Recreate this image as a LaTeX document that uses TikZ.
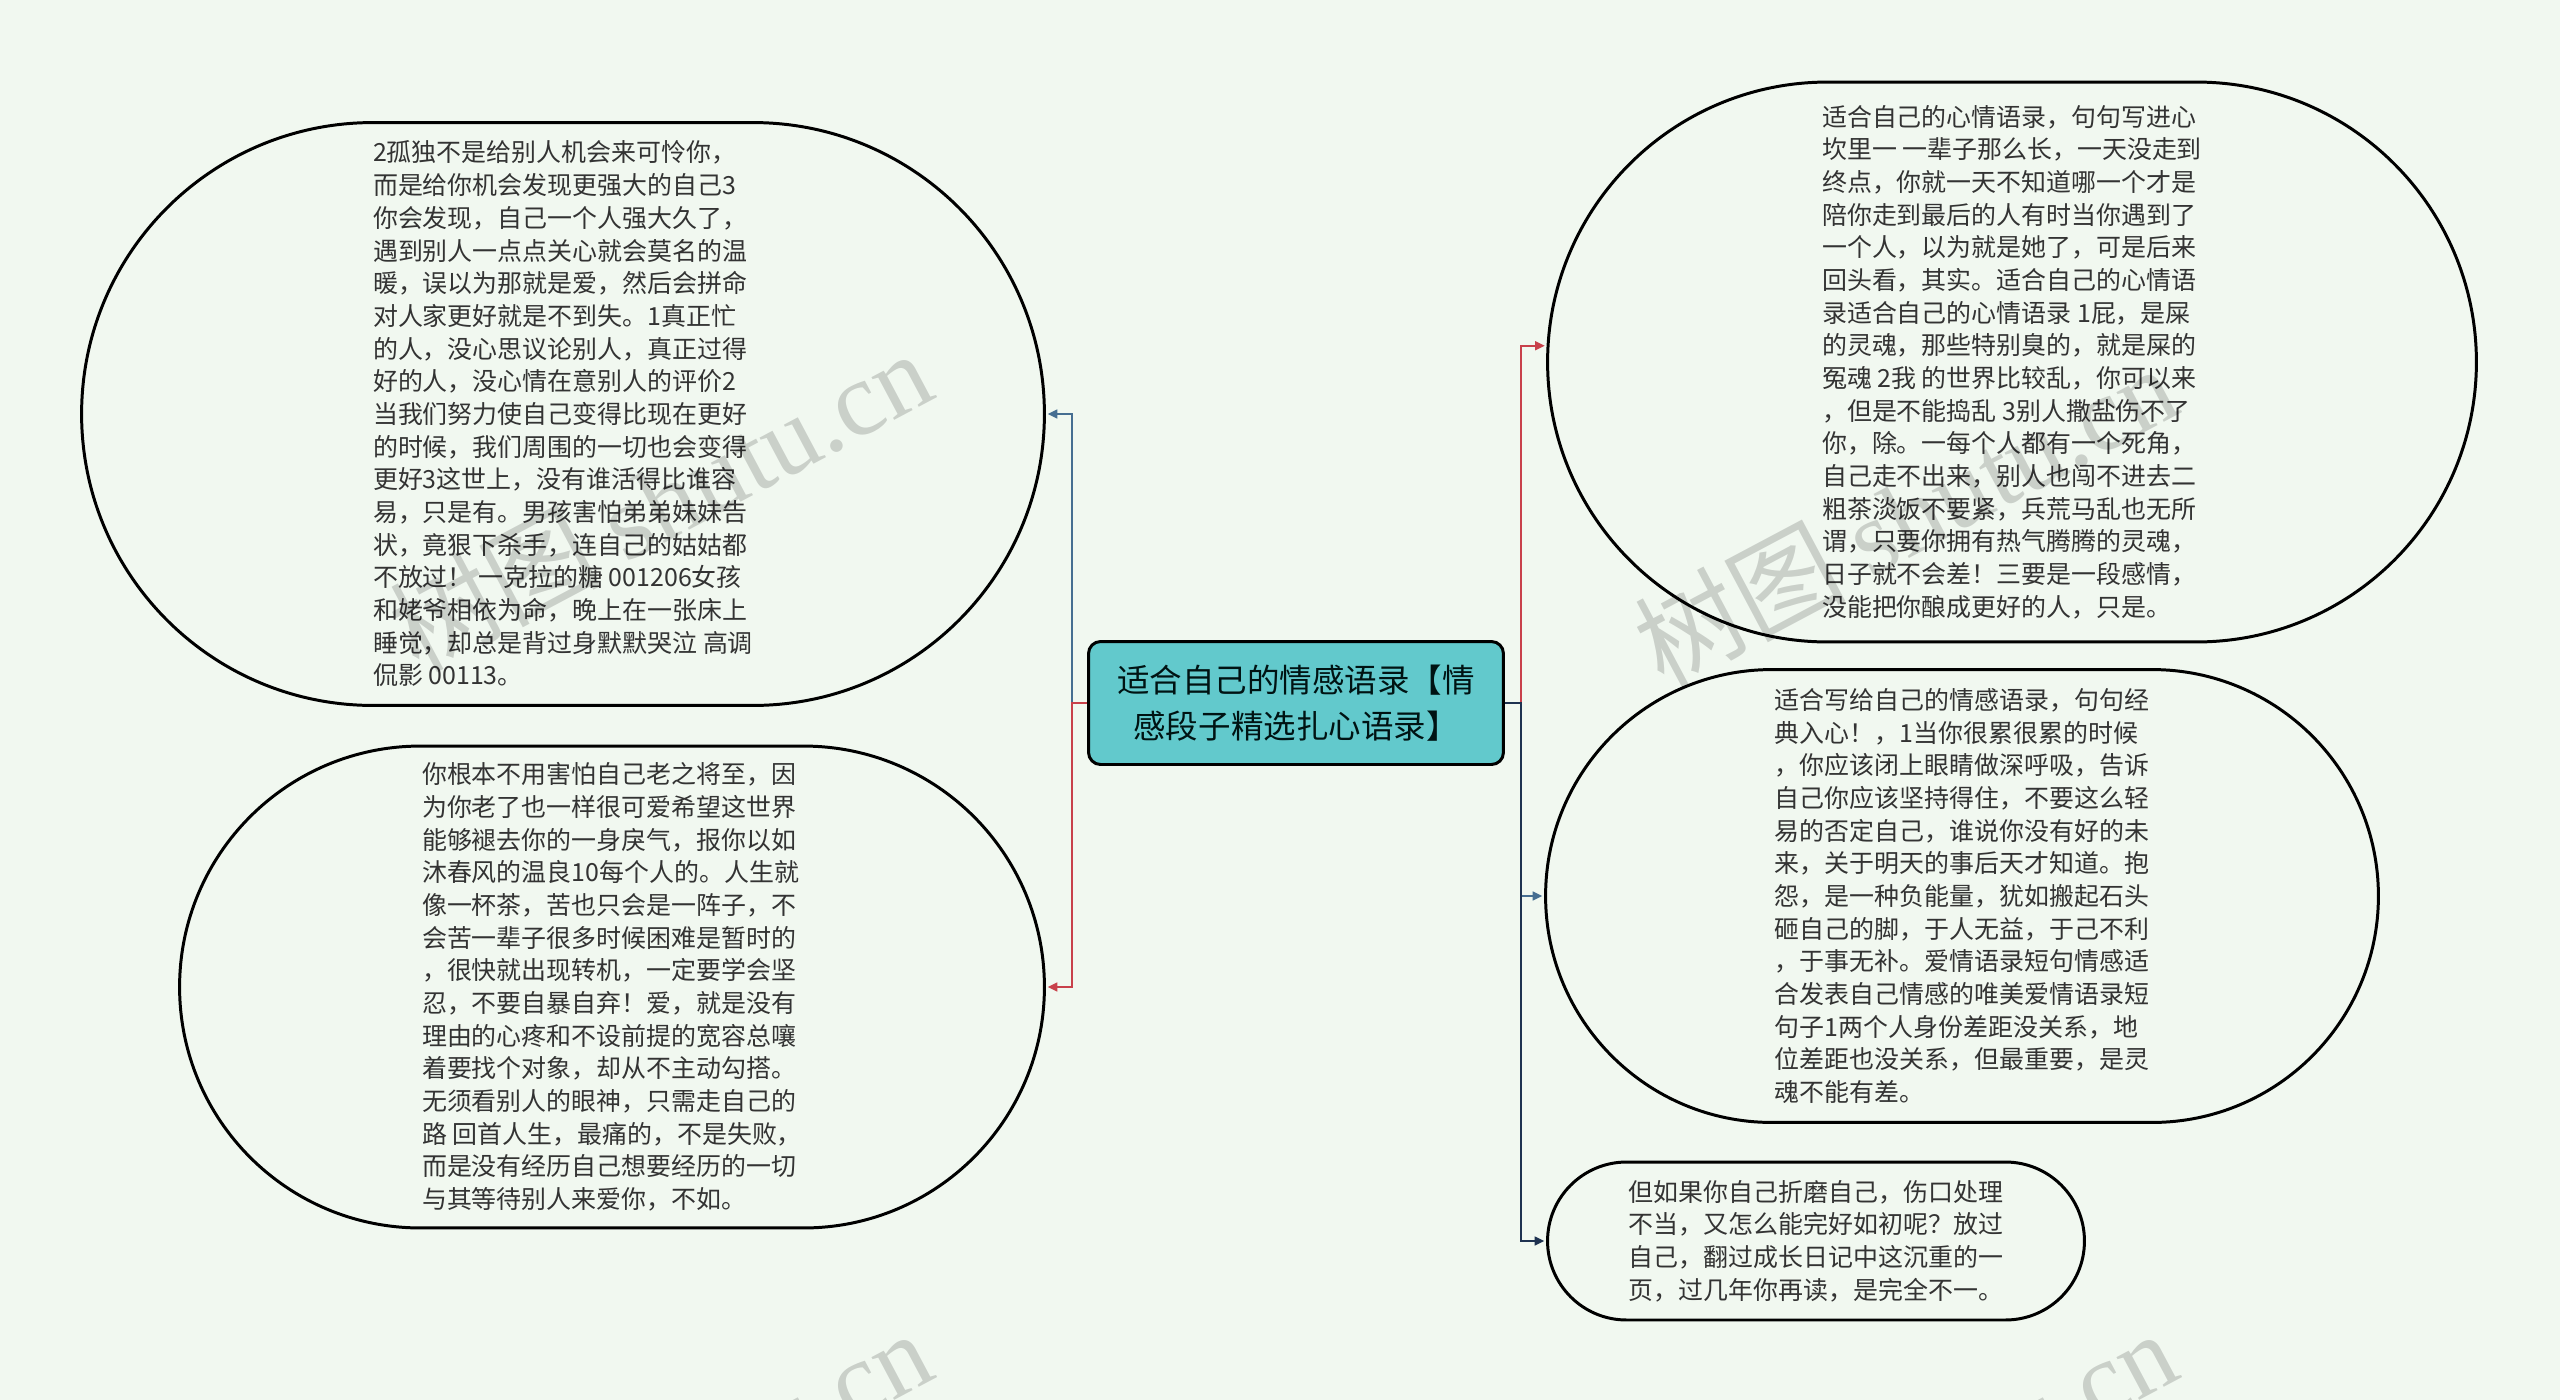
\documentclass[tikz,border=0pt]{standalone}
\usepackage{fontspec}
\setmainfont{Noto Sans CJK SC}
\newfontfamily\wmlatin{Liberation Serif}
\usetikzlibrary{shapes.misc,arrows.meta}
\definecolor{paper}{HTML}{F1F8F0}
\definecolor{rootfill}{HTML}{62C9CC}
\definecolor{linkred}{HTML}{C8414B}
\definecolor{linkblue}{HTML}{466E91}
\definecolor{linknavy}{HTML}{1E3250}
\begin{document}
\begin{tikzpicture}[x=0.02cm, y=-0.02cm,
    bubble/.style={draw=black, line width=1.7pt, rounded rectangle, align=left,
                   text=black!80, inner sep=0pt, font=\fontsize{14.2}{18.6}\selectfont},
    link/.style={line width=1.1pt, -{Triangle[length=5.5pt,width=5pt]}, shorten >=1pt},
    wm/.style={rotate=28, text=black, text opacity=0.16, font=\fontsize{60}{64}\selectfont}]
      \useasboundingbox [fill=paper] (0, 0) rectangle (2560, 1400);
      \node (root) at (1296, 703) [draw=black, line width=1.7pt, fill=rootfill, rounded corners=0.24cm,
            minimum width=8.3cm, minimum height=2.46cm, align=center, text=black!85!teal,
            font=\fontsize{18.5}{26.2}\selectfont]
            {适合自己的情感语录【情\\感段子精选扎心语录】};
      \node (tl) at (563, 414) [bubble, minimum width=19.26cm, minimum height=11.66cm]
            {2孤独不是给别人机会来可怜你，\\而是给你机会发现更强大的自己3\\你会发现，自己一个人强大久了，\\遇到别人一点点关心就会莫名的温\\暖，误以为那就是爱，然后会拼命\\对人家更好就是不到失。1真正忙\\的人，没心思议论别人，真正过得\\好的人，没心情在意别人的评价2\\当我们努力使自己变得比现在更好\\的时候，我们周围的一切也会变得\\更好3这世上，没有谁活得比谁容\\易，只是有。男孩害怕弟弟妹妹告\\状，竟狠下杀手，连自己的姑姑都\\不放过！ 一克拉的糖 001206女孩\\和姥爷相依为命，晚上在一张床上\\睡觉，却总是背过身默默哭泣 高调\\侃影 00113。};
      \node (bl) at (612, 987) [bubble, minimum width=17.3cm, minimum height=9.64cm]
            {你根本不用害怕自己老之将至，因\\为你老了也一样很可爱希望这世界\\能够褪去你的一身戾气，报你以如\\沐春风的温良10每个人的。人生就\\像一杯茶，苦也只会是一阵子，不\\会苦一辈子很多时候困难是暂时的\\，很快就出现转机，一定要学会坚\\忍，不要自暴自弃！爱，就是没有\\理由的心疼和不设前提的宽容总嚷\\着要找个对象，却从不主动勾搭。\\无须看别人的眼神，只需走自己的\\路 回首人生，最痛的，不是失败，\\而是没有经历自己想要经历的一切\\与其等待别人来爱你，不如。};
      \node (tr) at (2012, 362) [bubble, minimum width=18.58cm, minimum height=11.2cm]
            {适合自己的心情语录，句句写进心\\坎里一 一辈子那么长，一天没走到\\终点，你就一天不知道哪一个才是\\陪你走到最后的人有时当你遇到了\\一个人，以为就是她了，可是后来\\回头看，其实。适合自己的心情语\\录适合自己的心情语录 1屁，是屎\\的灵魂，那些特别臭的，就是屎的\\冤魂 2我 的世界比较乱，你可以来\\，但是不能捣乱 3别人撒盐伤不了\\你，除。一每个人都有一个死角，\\自己走不出来，别人也闯不进去二\\粗茶淡饭不要紧，兵荒马乱也无所\\谓，只要你拥有热气腾腾的灵魂，\\日子就不会差！三要是一段感情，\\没能把你酿成更好的人，只是。};
      \node (mr) at (1962, 896) [bubble, minimum width=16.66cm, minimum height=9.06cm]
            {适合写给自己的情感语录，句句经\\典入心！，1当你很累很累的时候\\，你应该闭上眼睛做深呼吸，告诉\\自己你应该坚持得住，不要这么轻\\易的否定自己，谁说你没有好的未\\来，关于明天的事后天才知道。抱\\怨，是一种负能量，犹如搬起石头\\砸自己的脚，于人无益，于己不利\\，于事无补。爱情语录短句情感适\\合发表自己情感的唯美爱情语录短\\句子1两个人身份差距没关系，地\\位差距也没关系，但最重要，是灵\\魂不能有差。};
      \node (br) at (1816, 1241) [bubble, minimum width=10.74cm, minimum height=3.16cm]
            {但如果你自己折磨自己，伤口处理\\不当，又怎么能完好如初呢？放过\\自己，翻过成长日记中这沉重的一\\页，过几年你再读，是完全不一。};
      % connectors, last drawn lies on top
      \draw[link, linkred] (root.east) -- ([xshift=0.32cm]root.east) |- (tr.178);
      \draw[link, linkblue] (root.east) -- ([xshift=0.32cm]root.east) |- (mr.west);
      \draw[link, linknavy] (root.east) -- ([xshift=0.32cm]root.east) |- (br.west);
      \draw[link, linkblue] (root.west) -- ([xshift=-0.3cm]root.west) |- (tl.east);
      \draw[link, linkred] (root.west) -- ([xshift=-0.3cm]root.west) |- (bl.east);
      % watermarks
      \node (wm1) at (660, 500) [wm] {树图 {\wmlatin shutu.cn}};
      \node (wm2) at (1905, 515) [wm] {树图 {\wmlatin shutu.cn}};
      \node (wm3) at (660, 1480) [wm] {树图 {\wmlatin shutu.cn}};
      \node (wm4) at (1905, 1480) [wm] {树图 {\wmlatin shutu.cn}};
\end{tikzpicture}
\end{document}
